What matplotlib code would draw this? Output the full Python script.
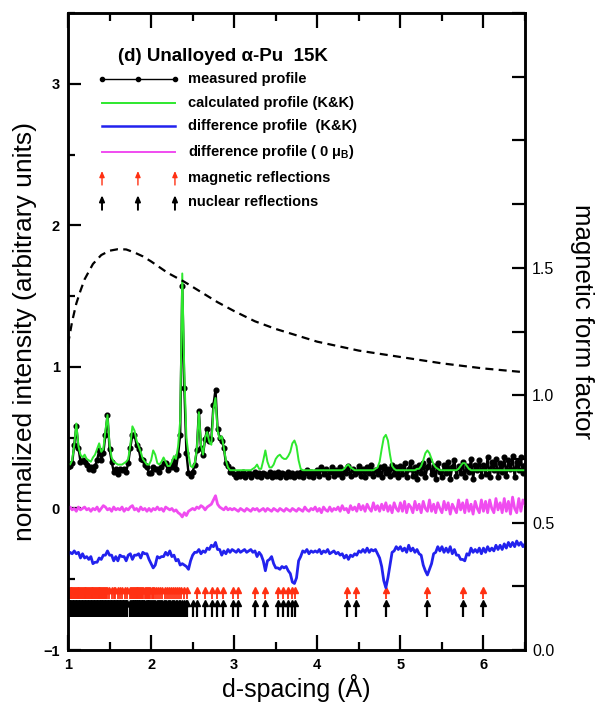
import numpy as np
import matplotlib
matplotlib.use("Agg")
import matplotlib.pyplot as plt
from matplotlib.ticker import MultipleLocator, FormatStrFormatter

plt.rcParams['font.family'] = ['Liberation Sans', 'DejaVu Sans']
plt.rcParams['mathtext.fontset'] = 'custom'
plt.rcParams['mathtext.rm'] = 'Liberation Sans'
plt.rcParams['mathtext.bf'] = 'Liberation Sans:bold'

# d-spacing grid (Angstrom) shared by all profiles
d = np.linspace(1.0, 6.5, 221)

# calculated profile (K&K)
calc = [
    0.32, 0.31, 0.34, 0.45, 0.60, 0.44, 0.38, 0.36, 0.38, 0.35,
    0.34, 0.33, 0.36, 0.38, 0.42, 0.46, 0.40, 0.42, 0.55, 0.66,
    0.45, 0.36, 0.33, 0.32, 0.31, 0.31, 0.31, 0.32, 0.33, 0.35,
    0.45, 0.58, 0.55, 0.48, 0.44, 0.40, 0.35, 0.33, 0.31, 0.31,
    0.34, 0.41, 0.38, 0.32, 0.31, 0.33, 0.36, 0.33, 0.30, 0.30,
    0.33, 0.37, 0.35, 0.44, 0.62, 1.66, 0.95, 0.50, 0.38, 0.30,
    0.29, 0.32, 0.42, 0.68, 0.45, 0.38, 0.50, 0.54, 0.47, 0.45,
    0.70, 0.78, 0.55, 0.49, 0.51, 0.43, 0.34, 0.29, 0.27, 0.27,
    0.27, 0.27, 0.27, 0.27, 0.27, 0.27, 0.27, 0.27, 0.27, 0.28,
    0.29, 0.31, 0.28, 0.28, 0.34, 0.41, 0.33, 0.29, 0.29, 0.31,
    0.35, 0.37, 0.38, 0.36, 0.35, 0.35, 0.37, 0.40, 0.46, 0.48,
    0.44, 0.34, 0.28, 0.27, 0.27, 0.27, 0.27, 0.27, 0.27, 0.27,
    0.27, 0.27, 0.27, 0.27, 0.27, 0.27, 0.27, 0.27, 0.27, 0.27,
    0.27, 0.27, 0.27, 0.28, 0.30, 0.31, 0.29, 0.28, 0.27, 0.27,
    0.27, 0.27, 0.27, 0.27, 0.27, 0.27, 0.27, 0.27, 0.28, 0.29,
    0.33, 0.42, 0.50, 0.52, 0.48, 0.38, 0.30, 0.28, 0.27, 0.27,
    0.27, 0.27, 0.27, 0.27, 0.27, 0.27, 0.27, 0.27, 0.28, 0.28,
    0.30, 0.34, 0.39, 0.41, 0.39, 0.35, 0.31, 0.29, 0.28, 0.27,
    0.27, 0.27, 0.27, 0.27, 0.27, 0.27, 0.27, 0.27, 0.28, 0.30,
    0.32, 0.32, 0.30, 0.28, 0.27, 0.27, 0.27, 0.27, 0.27, 0.27,
    0.27, 0.27, 0.27, 0.27, 0.27, 0.27, 0.27, 0.27, 0.27, 0.27,
    0.27, 0.27, 0.27, 0.27, 0.27, 0.27, 0.27, 0.27, 0.27, 0.27,
    0.27,
]

# measured profile
measured = [
    0.29, 0.30, 0.32, 0.45, 0.58, 0.43, 0.33, 0.34, 0.33, 0.31,
    0.28, 0.29, 0.27, 0.30, 0.34, 0.41, 0.34, 0.39, 0.52, 0.66,
    0.42, 0.33, 0.26, 0.28, 0.24, 0.28, 0.27, 0.28, 0.26, 0.32,
    0.43, 0.52, 0.52, 0.45, 0.42, 0.35, 0.34, 0.31, 0.29, 0.25,
    0.25, 0.29, 0.28, 0.28, 0.26, 0.29, 0.32, 0.32, 0.27, 0.30,
    0.29, 0.34, 0.28, 0.38, 0.52, 1.57, 0.85, 0.39, 0.25, 0.23,
    0.26, 0.31, 0.41, 0.69, 0.43, 0.38, 0.49, 0.56, 0.48, 0.49,
    0.73, 0.84, 0.56, 0.50, 0.48, 0.43, 0.32, 0.30, 0.26, 0.28,
    0.24, 0.22, 0.25, 0.23, 0.26, 0.22, 0.24, 0.25, 0.22, 0.24,
    0.26, 0.23, 0.25, 0.22, 0.25, 0.24, 0.23, 0.26, 0.22, 0.25,
    0.23, 0.26, 0.22, 0.25, 0.24, 0.22, 0.26, 0.23, 0.25, 0.22,
    0.25, 0.23, 0.26, 0.22, 0.25, 0.27, 0.23, 0.26, 0.22, 0.25,
    0.27, 0.23, 0.29, 0.24, 0.28, 0.22, 0.26, 0.29, 0.23, 0.27,
    0.24, 0.29, 0.22, 0.27, 0.25, 0.30, 0.23, 0.28, 0.24, 0.26,
    0.30, 0.23, 0.28, 0.22, 0.29, 0.25, 0.31, 0.23, 0.27, 0.24,
    0.29, 0.22, 0.30, 0.25, 0.28, 0.23, 0.31, 0.24, 0.29, 0.22,
    0.30, 0.24, 0.32, 0.22, 0.28, 0.33, 0.23, 0.29, 0.21, 0.31,
    0.25, 0.32, 0.22, 0.29, 0.34, 0.24, 0.30, 0.21, 0.32, 0.26,
    0.22, 0.31, 0.25, 0.33, 0.21, 0.29, 0.34, 0.23, 0.30, 0.25,
    0.33, 0.22, 0.30, 0.26, 0.35, 0.21, 0.31, 0.27, 0.34, 0.23,
    0.31, 0.24, 0.36, 0.22, 0.33, 0.27, 0.35, 0.22, 0.32, 0.26,
    0.36, 0.23, 0.34, 0.28, 0.37, 0.22, 0.33, 0.27, 0.36, 0.25,
    0.31,
]

# difference profile (K&K), shifted down for display
diff_kk = [
    -0.33, -0.31, -0.32, -0.30, -0.32, -0.31, -0.35, -0.32, -0.35, -0.34,
    -0.36, -0.34, -0.39, -0.38, -0.38, -0.35, -0.36, -0.33, -0.33, -0.30,
    -0.33, -0.33, -0.37, -0.34, -0.37, -0.33, -0.34, -0.34, -0.37, -0.33,
    -0.32, -0.36, -0.33, -0.33, -0.32, -0.35, -0.31, -0.32, -0.32, -0.36,
    -0.39, -0.42, -0.40, -0.34, -0.35, -0.34, -0.34, -0.31, -0.33, -0.30,
    -0.34, -0.33, -0.37, -0.36, -0.40, -0.39, -0.40, -0.41, -0.43, -0.37,
    -0.33, -0.31, -0.31, -0.29, -0.32, -0.30, -0.31, -0.28, -0.29, -0.26,
    -0.27, -0.24, -0.29, -0.29, -0.33, -0.30, -0.32, -0.29, -0.31, -0.29,
    -0.30, -0.31, -0.29, -0.31, -0.30, -0.29, -0.31, -0.30, -0.29, -0.31,
    -0.30, -0.34, -0.31, -0.33, -0.37, -0.44, -0.37, -0.36, -0.34, -0.39,
    -0.42, -0.42, -0.43, -0.41, -0.42, -0.41, -0.44, -0.46, -0.52, -0.53,
    -0.49, -0.37, -0.34, -0.30, -0.31, -0.29, -0.32, -0.30, -0.31, -0.30,
    -0.31, -0.29, -0.32, -0.30, -0.31, -0.29, -0.32, -0.31, -0.30, -0.32,
    -0.31, -0.33, -0.32, -0.35, -0.33, -0.36, -0.33, -0.34, -0.32, -0.33,
    -0.30, -0.31, -0.29, -0.31, -0.28, -0.31, -0.29, -0.30, -0.29, -0.32,
    -0.35, -0.41, -0.51, -0.56, -0.49, -0.40, -0.31, -0.30, -0.27, -0.29,
    -0.27, -0.30, -0.28, -0.31, -0.26, -0.30, -0.28, -0.31, -0.29, -0.32,
    -0.33, -0.40, -0.44, -0.47, -0.43, -0.39, -0.32, -0.31, -0.27, -0.30,
    -0.27, -0.31, -0.28, -0.31, -0.27, -0.32, -0.29, -0.33, -0.33, -0.36,
    -0.36, -0.37, -0.32, -0.33, -0.28, -0.31, -0.29, -0.31, -0.28, -0.32,
    -0.28, -0.31, -0.27, -0.30, -0.28, -0.30, -0.26, -0.29, -0.26, -0.29,
    -0.25, -0.28, -0.24, -0.27, -0.24, -0.27, -0.23, -0.26, -0.24, -0.27,
    -0.25,
]

# difference profile for zero moment
diff_0 = [
    -0.01, 0.01, -0.01, 0.00, -0.02, 0.01, -0.01, 0.00, 0.01, -0.01,
    0.00, -0.02, 0.00, -0.01, 0.01, -0.02, 0.00, 0.02, 0.01, -0.01,
    0.00, -0.02, 0.01, -0.01, 0.00, -0.01, 0.01, -0.02, 0.00, -0.01,
    0.01, 0.02, -0.01, 0.00, -0.02, 0.01, -0.01, 0.00, -0.02, 0.00,
    -0.02, 0.00, -0.01, 0.01, -0.01, 0.00, -0.02, 0.01, 0.00, -0.01,
    0.00, -0.02, -0.01, -0.03, -0.04, -0.06, -0.03, -0.05, -0.02, -0.01,
    0.00, -0.01, 0.01, 0.00, 0.02, 0.01, -0.01, 0.01, 0.02, 0.03,
    0.06, 0.09, 0.03, 0.01, 0.00, -0.01, 0.01, -0.01, 0.00, -0.01,
    0.00, -0.01, -0.02, 0.00, -0.01, -0.02, 0.00, -0.01, -0.02, 0.00,
    -0.01, 0.00, -0.02, -0.01, 0.00, -0.02, 0.00, -0.01, -0.02, 0.00,
    -0.01, -0.02, 0.00, -0.01, -0.02, 0.00, -0.01, -0.02, 0.00, -0.01,
    -0.02, 0.00, -0.01, -0.02, 0.01, -0.01, -0.02, 0.00, -0.01, 0.01,
    -0.02, 0.00, -0.03, 0.01, -0.01, -0.02, 0.01, -0.02, 0.00, -0.01,
    0.01, -0.02, 0.02, -0.01, 0.00, -0.03, 0.02, -0.01, 0.01, -0.02,
    0.03, -0.01, 0.02, -0.02, 0.03, 0.00, -0.02, 0.04, -0.01, 0.02,
    -0.02, 0.03, -0.01, 0.04, -0.02, 0.02, -0.03, 0.04, 0.00, -0.02,
    0.04, -0.02, 0.05, -0.03, 0.03, 0.01, -0.03, 0.05, -0.01, 0.03,
    -0.03, 0.05, 0.00, -0.02, 0.06, -0.02, 0.03, -0.03, 0.04, 0.00,
    -0.03, 0.05, -0.01, 0.04, -0.04, 0.03, 0.00, -0.03, 0.06, -0.01,
    0.04, -0.03, 0.06, -0.02, 0.03, -0.04, 0.05, 0.00, -0.03, 0.06,
    -0.02, 0.05, -0.03, 0.06, 0.00, -0.03, 0.07, -0.01, 0.04, -0.03,
    0.07, -0.02, 0.05, -0.04, 0.08, 0.00, -0.03, 0.07, -0.02, 0.06,
    0.03,
]

# magnetic form factor (right axis)
ff_d = [1.00, 1.05, 1.10, 1.15, 1.20, 1.30, 1.40, 1.50, 1.60, 1.70, 1.80, 1.90,
        2.00, 2.20, 2.40, 2.60, 2.80, 3.00, 3.25, 3.50, 3.75, 4.00, 4.50, 5.00,
        5.50, 6.00, 6.50]
ff_val = [1.20, 1.29, 1.36, 1.41, 1.455, 1.515, 1.55, 1.567, 1.573, 1.572, 1.56, 1.545,
          1.525, 1.48, 1.445, 1.405, 1.365, 1.33, 1.29, 1.26, 1.235, 1.21, 1.175, 1.15,
          1.125, 1.105, 1.09]

# reflection positions (d-spacing)
magnetic_refl = [
    1.000, 1.011, 1.021, 1.032, 1.042, 1.053, 1.063, 1.074, 1.084, 1.095, 1.105,
    1.116, 1.126, 1.137, 1.147, 1.158, 1.168, 1.179, 1.189, 1.200, 1.210, 1.221,
    1.231, 1.242, 1.252, 1.263, 1.273, 1.284, 1.294, 1.305, 1.315, 1.326, 1.336,
    1.347, 1.357, 1.368, 1.378, 1.389, 1.399, 1.410, 1.420, 1.431, 1.441, 1.452,
    1.466, 1.497, 1.526, 1.548, 1.566, 1.600, 1.627, 1.655, 1.687, 1.712,
    1.748, 1.759, 1.770, 1.781, 1.792, 1.803, 1.814, 1.825, 1.836, 1.847, 1.858,
    1.869, 1.880, 1.894, 1.908, 1.921, 1.935, 1.950, 1.963, 1.978, 1.992, 2.006,
    2.020, 2.035, 2.060, 2.088, 2.112, 2.136, 2.163, 2.190, 2.214, 2.240, 2.265,
    2.290, 2.315, 2.340, 2.365, 2.390, 2.430,
    2.55, 2.65, 2.73, 2.79, 2.86, 2.99, 3.05, 3.25, 3.37, 3.53, 3.59, 3.65,
    3.69, 3.73, 4.36, 4.47, 4.83, 5.32, 5.75, 5.99,
]
nuclear_refl = [
    1.000, 1.010, 1.019, 1.027, 1.036, 1.046, 1.055, 1.063, 1.072, 1.082, 1.091,
    1.099, 1.108, 1.118, 1.127, 1.135, 1.144, 1.154, 1.163, 1.171, 1.180, 1.190,
    1.199, 1.207, 1.216, 1.226, 1.235, 1.243, 1.252, 1.262, 1.271, 1.279, 1.288,
    1.298, 1.307, 1.315, 1.324, 1.334, 1.343, 1.351, 1.360, 1.370, 1.379, 1.387,
    1.396, 1.406, 1.415, 1.423, 1.432, 1.442, 1.451, 1.459, 1.468, 1.478, 1.487,
    1.495, 1.504, 1.514, 1.523, 1.531, 1.540, 1.550, 1.559, 1.567, 1.576, 1.586,
    1.595, 1.603, 1.612, 1.622, 1.631, 1.639, 1.648, 1.658, 1.667, 1.675, 1.684,
    1.694, 1.703, 1.712,
    1.752, 1.760, 1.768, 1.777, 1.785, 1.793, 1.801, 1.810, 1.818, 1.826, 1.835,
    1.843, 1.851, 1.860, 1.868, 1.877, 1.885, 1.893, 1.902, 1.910, 1.920, 1.934,
    1.946, 1.958, 1.967, 1.979, 1.992, 2.004, 2.013, 2.025, 2.040, 2.052, 2.066,
    2.078, 2.093, 2.108, 2.121, 2.137, 2.152, 2.168, 2.185, 2.200, 2.214, 2.232,
    2.248, 2.262, 2.281, 2.297, 2.316, 2.333, 2.352, 2.371, 2.392, 2.414, 2.436,
    2.50, 2.55, 2.65, 2.73, 2.79, 2.86, 2.99, 3.05, 3.25, 3.37, 3.53, 3.59, 3.65,
    3.69, 3.73, 4.36, 4.47, 4.83, 5.32, 5.75, 5.99,
]

RED = '#ff3012'
GREEN = '#2ee82e'
BLUE = '#2222ee'
MAGENTA = '#f04cf0'

fig = plt.figure(figsize=(5.95, 7.06), dpi=100)
ax = fig.add_axes([0.1143, 0.0793, 0.7681, 0.9023])

ax.plot(d, measured, '-', color='black', lw=1.7, marker='o', ms=3.4, zorder=3)
ax.plot(d, calc, '-', color=GREEN, lw=1.4, zorder=4)
ax.plot(d, diff_kk, '-', color=BLUE, lw=2.0, zorder=3)
ax.plot(d, diff_0, '-', color=MAGENTA, lw=2.0, zorder=3)

# reflection markers
n_mag = len(magnetic_refl)
n_nuc = len(nuclear_refl)
ax.vlines(magnetic_refl, -0.64, -0.58, color=RED, lw=1.3, zorder=2)
ax.plot(magnetic_refl, [-0.578] * n_mag, ls='none', marker='^', ms=4.4,
        color=RED, mec=RED, zorder=2)
ax.vlines(nuclear_refl, -0.77, -0.67, color='black', lw=1.6, zorder=2)
ax.plot(nuclear_refl, [-0.668] * n_nuc, ls='none', marker='^', ms=4.8,
        color='black', zorder=2)

ax.set_xlim(1, 6.5)
ax.set_ylim(-1, 3.5)
ax.xaxis.set_major_locator(MultipleLocator(1))
ax.xaxis.set_minor_locator(MultipleLocator(0.5))
ax.yaxis.set_major_locator(MultipleLocator(1))
ax.yaxis.set_minor_locator(MultipleLocator(0.5))
ax.tick_params(which='both', direction='in', top=True, right=False, width=1.6)
ax.tick_params(axis='x', which='major', length=11, pad=6)
ax.tick_params(axis='x', which='minor', length=6)
ax.tick_params(axis='y', which='major', length=9.5, pad=6)
ax.tick_params(axis='y', which='minor', length=5)
for lab in ax.get_xticklabels() + ax.get_yticklabels():
    lab.set_fontsize(10.5)
    lab.set_fontweight('bold')
for sp in ax.spines.values():
    sp.set_linewidth(1.8)

# right axis: magnetic form factor
ax2 = ax.twinx()
ax2.plot(ff_d, ff_val, color='black', lw=1.6, dashes=(3.6, 2.4), zorder=5)
ax2.set_ylim(0, 2.5)
ax2.yaxis.set_major_locator(MultipleLocator(0.5))
ax2.yaxis.set_minor_locator(MultipleLocator(0.25))
ax2.yaxis.set_major_formatter(FormatStrFormatter('%.1f'))
ax2.set_yticks([0.0, 0.5, 1.0, 1.5])
ax2.tick_params(which='both', direction='in', width=1.6, labelsize=11.5, pad=5)
ax2.tick_params(which='major', length=9.5)
ax2.tick_params(which='minor', length=9.5)
for sp in ax2.spines.values():
    sp.set_linewidth(1.8)

ax.text(-0.094, 0.5, 'normalized intensity (arbitrary units)', transform=ax.transAxes,
        rotation=90, ha='center', va='center', fontsize=19)
ax.text(0.5, -0.06, 'd-spacing (Å)', transform=ax.transAxes,
        ha='center', va='center', fontsize=18)
ax.text(1.125, 0.515, 'magnetic form factor', transform=ax.transAxes,
        rotation=270, ha='center', va='center', fontsize=18.5)

# hand-drawn key
ax.text(0.109, 0.931, '(d) Unalloyed α-Pu  15K', transform=ax.transAxes,
        fontsize=13.5, fontweight='bold', va='center', ha='left')
x0, xm, x1 = 0.0744, 0.153, 0.234
xt = 0.263
rows = [0.896, 0.859, 0.823, 0.782, 0.741, 0.703]
ax.plot([x0, xm, x1], [rows[0]] * 3, '-', color='black', lw=1.0, marker='o', ms=3,
        transform=ax.transAxes)
ax.plot([x0, x1], [rows[1]] * 2, '-', color=GREEN, lw=1.4, transform=ax.transAxes)
ax.plot([x0, x1], [rows[2]] * 2, '-', color=BLUE, lw=1.8, transform=ax.transAxes)
ax.plot([x0, x1], [rows[3]] * 2, '-', color=MAGENTA, lw=1.4, transform=ax.transAxes)
for xa in (x0, xm, x1):
    ax.annotate('', xy=(xa, rows[4] + 0.011), xytext=(xa, rows[4] - 0.011),
                xycoords='axes fraction',
                arrowprops=dict(arrowstyle='-|>,head_length=0.35,head_width=0.15',
                                color=RED, lw=1.0, shrinkA=0, shrinkB=0))
    ax.annotate('', xy=(xa, rows[5] + 0.011), xytext=(xa, rows[5] - 0.012),
                xycoords='axes fraction',
                arrowprops=dict(arrowstyle='-|>,head_length=0.35,head_width=0.15',
                                color='black', lw=1.4, shrinkA=0, shrinkB=0))

labels = ['measured profile', 'calculated profile (K&K)', 'difference profile  (K&K)',
          r'difference profile ( 0 $\mathbf{\mu_B}$)', 'magnetic reflections',
          'nuclear reflections']
for y, txt in zip(rows, labels):
    ax.text(xt, y, txt, transform=ax.transAxes, fontsize=10.5, fontweight='bold',
            va='center', ha='left')

fig.savefig('out.png', dpi=100)
